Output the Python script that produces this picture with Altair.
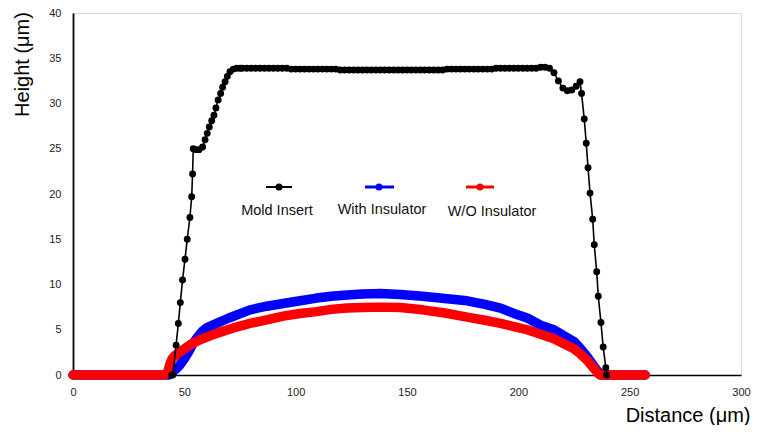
import altair as alt
import pandas as pd

# ---- data ----
mold_x = [44.3, 44.8, 46.3, 47.3, 48.2, 49.2, 50.3, 51.3, 52.5, 53.3, 53.7, 54.0,
          55.3, 56.6, 58.2, 59.3, 60.3, 61.2, 62.3, 63.3, 64.2, 65.2, 66.3, 67.2,
          68.3, 69.3, 70.5, 72.0, 73.5, 75.0,
          76, 78, 80, 82, 84, 86, 88, 90, 92, 94, 96, 98, 100, 102, 104, 106, 108,
          110, 112, 114, 116, 118, 120, 122, 124, 126, 128, 130, 132, 134, 136, 138,
          140, 142, 144, 146, 148, 150, 152, 154, 156, 158, 160, 162, 164, 166, 168,
          170, 172, 174, 176, 178, 180, 182, 184, 186, 188, 190, 192, 194, 196, 198,
          200, 202, 204, 206, 208, 210, 212,
          214, 216, 218, 220, 222, 224, 226, 227.7,
          228.4, 229.6, 230.5, 231.3, 232.2, 233.4, 234.1, 235.2, 235.9, 237.1,
          238.1, 239.3, 239.6]
mold_y = [0.0, 0.0, 3.3, 5.7, 8.0, 10.5, 12.8, 15.0, 17.4, 19.7, 22.2, 25.0,
          24.9, 24.9, 25.2, 26.0, 26.7, 27.4, 28.1, 28.7, 29.5, 30.4, 31.1, 31.8,
          32.4, 33.0, 33.5, 33.8, 33.9, 33.9,
          33.9, 33.9, 33.9, 33.9, 33.9, 33.9, 33.9, 33.9, 33.9, 33.9, 33.9, 33.8, 33.8, 33.8, 33.8, 33.8, 33.8,
          33.8, 33.8, 33.8, 33.8, 33.8, 33.7, 33.7, 33.7, 33.7, 33.7, 33.7, 33.7, 33.7, 33.7, 33.7,
          33.7, 33.7, 33.7, 33.7, 33.7, 33.7, 33.7, 33.7, 33.7, 33.7, 33.7, 33.7, 33.7, 33.7, 33.8,
          33.8, 33.8, 33.8, 33.8, 33.8, 33.8, 33.8, 33.8, 33.8, 33.8, 33.9, 33.9, 33.9, 33.9, 33.9,
          33.9, 33.9, 33.9, 33.9, 33.9, 34.0, 34.0,
          33.9, 33.4, 32.5, 31.7, 31.4, 31.5, 31.9, 32.4,
          31.1, 28.3, 25.6, 22.9, 20.1, 17.2, 14.4, 11.4, 8.7, 5.8,
          3.1, 0.8, 0.0]

with_x = [0, 20, 43, 44, 46, 48, 50, 52, 54, 56, 58, 60, 64.5, 70, 79.5, 87, 94.4,
          102, 109.4, 116, 123, 130, 138, 147, 157, 167, 177, 185, 192, 198, 204,
          210, 216, 220, 225, 228, 231, 233, 235.2, 237.4, 247, 257]
with_y = [0, 0, 0, 0.2, 0.6, 1.1, 1.8, 2.6, 3.5, 4.2, 4.8, 5.2, 5.7, 6.3, 7.2, 7.6, 7.9,
          8.2, 8.5, 8.7, 8.85, 8.95, 9.0, 8.9, 8.7, 8.45, 8.2, 7.8, 7.4, 6.8, 6.3,
          5.5, 5.0, 4.4, 3.7, 2.9, 2.0, 1.3, 0.55, 0, 0, 0]

wo_x = [0, 20, 41, 42.5, 43.5, 44.5, 46, 49.5, 53, 57, 64.5, 72, 79.5, 87, 94.4,
        102, 109.4, 116, 123, 130, 138, 147, 157, 167, 177, 185, 192, 198, 204,
        210, 216, 220, 225, 228, 231, 233, 235.2, 236.5, 247, 257]
wo_y = [0, 0, 0, 0.3, 1.2, 1.8, 2.2, 2.8, 3.4, 3.9, 4.6, 5.2, 5.7, 6.1, 6.5,
        6.8, 7.0, 7.25, 7.4, 7.45, 7.5, 7.45, 7.2, 6.85, 6.4, 6.05, 5.7, 5.35, 5.0,
        4.5, 4.0, 3.5, 2.9, 2.3, 1.6, 1.0, 0.37, 0, 0, 0]

series_names = ["Mold Insert", "With Insulator", "W/O Insulator"]
series_colors = ["#000000", "#0000ff", "#ff0000"]
x_ticks = [0, 50, 100, 150, 200, 250, 300]
y_ticks = [0, 5, 10, 15, 20, 25, 30, 35, 40]

mold = pd.DataFrame({"x": mold_x, "y": mold_y})
withi = pd.DataFrame({"x": with_x, "y": with_y})
wo = pd.DataFrame({"x": wo_x, "y": wo_y})

xs = alt.Scale(domain=[0, 300], nice=False)
ys = alt.Scale(domain=[0, 40], nice=False)

xaxis = alt.Axis(values=x_ticks, grid=False, ticks=False, domainColor="#000",
                 domainWidth=1.5, labelFont="Liberation Sans", labelFontSize=11,
                 labelColor="#222", labelPadding=11, labelFlush=False,
                 title="Distance (μm)", titleFont="Liberation Sans", titleFontSize=20,
                 titleFontWeight="normal", titleColor="#000",
                 titleX=677, titleY=46, titleAlign="right", titleBaseline="alphabetic")
yaxis = alt.Axis(values=y_ticks, grid=False, ticks=False, domainColor="#000",
                 domainWidth=1.8, labelFont="Liberation Sans", labelFontSize=11,
                 labelColor="#222", labelPadding=12, labelFlush=False,
                 title="Height (μm)", titleFont="Liberation Sans", titleFontSize=20,
                 titleFontWeight="normal", titleColor="#000",
                 titleX=-45, titleY=51, titleAngle=270, titleAlign="center",
                 titleBaseline="alphabetic")

blue = alt.Chart(withi).mark_line(color="#0000ff", strokeWidth=9.5, strokeCap="round",
                                  strokeJoin="round").encode(
    x=alt.X("x:Q", scale=xs, axis=xaxis),
    y=alt.Y("y:Q", scale=ys, axis=yaxis),
    order="x:Q")
red = alt.Chart(wo).mark_line(color="#ff0000", strokeWidth=9.5, strokeCap="round",
                              strokeJoin="round").encode(
    x=alt.X("x:Q", scale=xs), y=alt.Y("y:Q", scale=ys), order="x:Q")
black_line = alt.Chart(mold).mark_line(color="#000", strokeWidth=1.6).encode(
    x=alt.X("x:Q", scale=xs), y=alt.Y("y:Q", scale=ys), order="x:Q")
black_pts = alt.Chart(mold).mark_circle(color="#000", opacity=1, size=48).encode(
    x=alt.X("x:Q", scale=xs), y=alt.Y("y:Q", scale=ys))

layers = [blue, red, black_line, black_pts]

# manual legend (pixel positions inside the plot area)
leg_rule = [(193, 219), (292, 321), (393, 421)]
leg_mark = [206, 306, 407]
leg_text = [(204, 198), (309, 197), (419, 199)]
leg_width = [2, 3, 3]
for i, name in enumerate(series_names):
    d = pd.DataFrame({"label": [name]})
    c = series_colors[i]
    layers.append(alt.Chart(d).mark_rule(color=c, strokeWidth=leg_width[i]).encode(
        x=alt.value(leg_rule[i][0]), x2=alt.value(leg_rule[i][1]), y=alt.value(174)))
    layers.append(alt.Chart(d).mark_circle(color=c, opacity=1, size=50).encode(
        x=alt.value(leg_mark[i]), y=alt.value(174)))
    layers.append(alt.Chart(d).mark_text(font="Liberation Sans", fontSize=14.5,
                                         color="#111", align="center",
                                         baseline="middle").encode(
        x=alt.value(leg_text[i][0]), y=alt.value(leg_text[i][1]), text="label:N"))

chart = alt.layer(*layers).properties(
    width=668, height=362,
    autosize=alt.AutoSizeParams(type="none"),
    padding={"left": 65, "top": 5, "right": 10, "bottom": 50},
).configure_view(stroke=None).configure(background="white")

chart.save("out.html", embed_options={"renderer": "svg", "actions": False})
